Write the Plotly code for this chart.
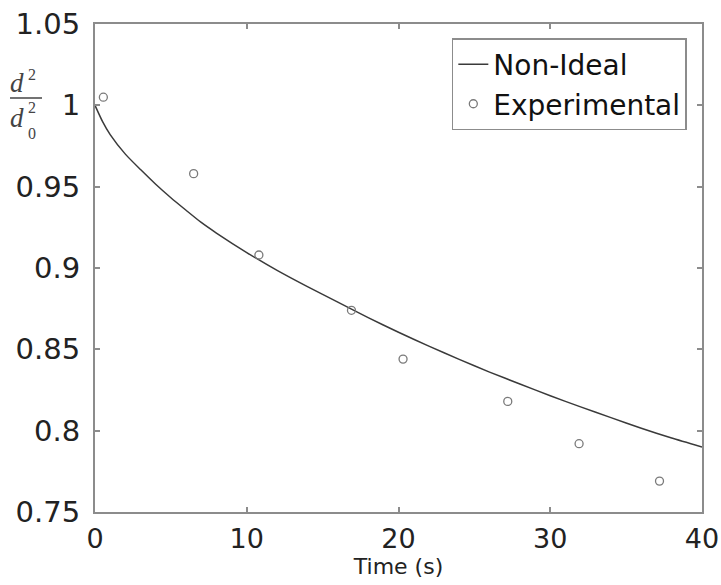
import plotly.graph_objects as go

# Model curve (Non-Ideal)
t_model = [0, 0.5, 1, 2, 3, 4, 5, 6, 7, 8, 10, 12, 14, 16, 18, 20, 22, 24,
           26, 28, 30, 32, 34, 36, 38, 40]
d2_model = [1.000, 0.990, 0.982, 0.970, 0.9605, 0.9515, 0.9432, 0.9355, 0.928,
            0.9215, 0.9095, 0.8985, 0.8885, 0.879, 0.8695, 0.8605, 0.852, 0.8438,
            0.836, 0.8287, 0.8215, 0.8146, 0.808, 0.8015, 0.7955, 0.790]

# Experimental points
t_exp = [0.55, 6.5, 10.8, 16.9, 20.3, 27.2, 31.9, 37.2]
d2_exp = [1.005, 0.958, 0.908, 0.874, 0.844, 0.818, 0.792, 0.769]

x_ticks = [0, 10, 20, 30, 40]
y_ticks = [0.75, 0.8, 0.85, 0.9, 0.95, 1.0, 1.05]
y_tick_text = ["0.75", "0.8", "0.85", "0.9", "0.95", "1", "1.05"]

FONT = "DejaVu Sans"
SERIF = "Liberation Serif"
LBL = "#444"

fig = go.Figure()
fig.add_trace(go.Scatter(x=t_model, y=d2_model, mode="lines", name="Non-Ideal",
                         line=dict(color="#3a3a3a", width=1.5, shape="spline",
                                   smoothing=0.6)))
fig.add_trace(go.Scatter(x=t_exp, y=d2_exp, mode="markers", name="Experimental",
                         marker=dict(symbol="circle-open", size=8,
                                     color="#7a7a7a", line=dict(width=1.3))))

axis_common = dict(showline=True, mirror="ticks", linecolor="#8c8c8c", linewidth=2,
                   ticks="inside", ticklen=5, tickcolor="#8c8c8c", tickwidth=1.5,
                   showgrid=False, zeroline=False, automargin=False)

fig.update_xaxes(range=[0, 40], tickvals=x_ticks, ticktext=[str(v) for v in x_ticks],
                 tickfont=dict(family=FONT, size=27, color="#222"),
                 ticklabelstandoff=2,
                 title=dict(text="Time (s)", standoff=0,
                            font=dict(family=FONT, size=22, color="#222")),
                 **axis_common)
fig.update_yaxes(range=[0.75, 1.05], tickvals=y_ticks, ticktext=y_tick_text,
                 tickfont=dict(family=FONT, size=29, color="#222"),
                 ticklabelstandoff=7,
                 **axis_common)

# y-axis label as a stacked fraction d^2 / d_0^2
def lab(text, x, y, size):
    fig.add_annotation(xref="paper", yref="paper", x=x, y=y, text=text,
                       showarrow=False, xanchor="left", yanchor="middle",
                       borderpad=0,
                       font=dict(family=SERIF, size=size, color=LBL))

lab("<i>d</i>", -0.1415, 0.879, 27)
lab("2", -0.1115, 0.896, 16)
fig.add_shape(type="line", xref="paper", yref="paper", x0=-0.140, x1=-0.0873,
              y0=0.8484, y1=0.8484, line=dict(color=LBL, width=1.3))
lab("<i>d</i>", -0.1415, 0.808, 27)
lab("2", -0.1115, 0.828, 16)
lab("0", -0.1115, 0.775, 16)

fig.update_layout(
    width=721, height=585,
    margin=dict(l=95, r=19, t=24, b=73),
    paper_bgcolor="white", plot_bgcolor="white",
    showlegend=True,
    legend=dict(x=0.975, y=0.971, xanchor="right", yanchor="top",
                bordercolor="#8c8c8c", borderwidth=1.5, bgcolor="white",
                font=dict(family=FONT, size=28, color="#111"),
                tracegroupgap=0, itemwidth=30),
)

fig.write_html("out.html", config={"displayModeBar": False},
               post_script="document.body.style.margin='0';")
